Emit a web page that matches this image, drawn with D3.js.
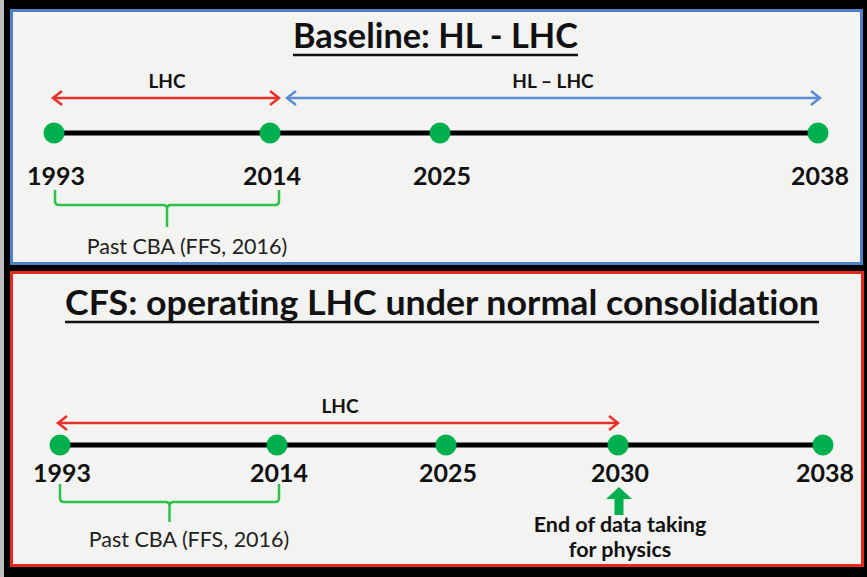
<!DOCTYPE html>
<html>
<head>
<meta charset="utf-8">
<script src="https://cdn.jsdelivr.net/npm/d3@7"></script>
<style>
  body { margin: 0; background: #000; }
  svg { display: block; }
  text { font-variant-ligatures: none; font-feature-settings: "liga" 0; }
</style>
</head>
<body>
<div id="chart"></div>
<script>
// timeline data
var titleTop = "Baseline: HL - LHC";
var titleBottom = "CFS: operating LHC under normal consolidation";
var yearsTop = [1993, 2014, 2025, 2038];
var yearsBottom = [1993, 2014, 2025, 2030, 2038];
var spanLabelsTop = ["LHC", "HL \u2013 LHC"];
var spanFromTop = [1993, 2014];
var spanToTop = [2014, 2038];
var spanLabelsBottom = ["LHC"];
var spanFromBottom = [1993];
var spanToBottom = [2030];
var braceLabel = "Past CBA (FFS, 2016)";
var braceFrom = 1993, braceTo = 2014;
var markerYear = 2030;
var markerLines = ["End of data taking", "for physics"];

function init() {
    var w = 867, h = 577;
    var green = "#00b04f", braceGreen = "#2fc24a";
    var red = "#e8302a", blue = "#5b8dd4", ink = "#111";
    var font = "Lato, 'Open Sans', sans-serif";

    var svg = d3.select("#chart").append("svg")
        .attr("width", w).attr("height", h);

    svg.append("rect").attr("width", w).attr("height", h).attr("fill", "#000");
    svg.append("rect").attr("width", 4).attr("height", h).attr("fill", "#bdbdbd");

    // panel frames
    svg.append("rect").attr("x", 11.5).attr("y", 10.5).attr("width", 850).attr("height", 253)
        .attr("fill", "#f3f3f1").attr("stroke", "#4f81c8").attr("stroke-width", 3);
    svg.append("rect").attr("x", 11.5).attr("y", 272.5).attr("width", 851).attr("height", 293)
        .attr("fill", "#f3f3f1").attr("stroke", "#e8281e").attr("stroke-width", 3);

    // uneven spacing in the original, so piecewise linear scales
    var xTop = d3.scaleLinear().domain(yearsTop).range([54, 270, 440, 818]);
    var xBot = d3.scaleLinear().domain(yearsBottom).range([60, 277, 446, 618, 823]);

    function title(text, x0, x1, y) {
        var cx = (x0 + x1) / 2;
        svg.append("text").text(text)
            .attr("x", cx).attr("y", y)
            .attr("text-anchor", "middle")
            .attr("textLength", x1 - x0).attr("lengthAdjust", "spacingAndGlyphs")
            .attr("font-family", font).attr("font-weight", "bold")
            .attr("font-size", "35px").attr("fill", ink);
        svg.append("line")
            .attr("x1", x0).attr("x2", x1)
            .attr("y1", y + 7).attr("y2", y + 7)
            .attr("stroke", ink).attr("stroke-width", 2.5);
    }

    function arrow(g, x1, x2, y, color) {
        g.append("line").attr("x1", x1).attr("x2", x2).attr("y1", y).attr("y2", y)
            .attr("stroke", color).attr("stroke-width", 2.5);
        var hw = 9, hh = 7;
        g.append("path").attr("d", "M" + (x1 + hw) + "," + (y - hh) + "L" + x1 + "," + y + "L" + (x1 + hw) + "," + (y + hh))
            .attr("fill", "none").attr("stroke", color).attr("stroke-width", 2.5);
        g.append("path").attr("d", "M" + (x2 - hw) + "," + (y - hh) + "L" + x2 + "," + y + "L" + (x2 - hw) + "," + (y + hh))
            .attr("fill", "none").attr("stroke", color).attr("stroke-width", 2.5);
    }

    function timeline(x, years, lineY, labelY) {
        svg.append("line")
            .attr("x1", x(years[0])).attr("x2", x(years[years.length - 1]))
            .attr("y1", lineY).attr("y2", lineY)
            .attr("stroke", "#000").attr("stroke-width", 5);
        svg.selectAll(null).data(years).enter().append("circle")
            .attr("cx", function(d) { return x(d); })
            .attr("cy", lineY).attr("r", 10.5).attr("fill", green);
        svg.selectAll(null).data(years).enter().append("text")
            .text(function(d) { return d; })
            .attr("x", function(d) { return x(d) + 2; })
            .attr("y", labelY)
            .attr("text-anchor", "middle")
            .attr("font-family", font).attr("font-weight", "bold")
            .attr("font-size", "25px").attr("fill", ink);
    }

    function brace(x0, x1, top, mid, bottom, labelX, labelY) {
        var xm = (x0 + x1) / 2, r = 4;
        var d = "M" + x0 + "," + top + "L" + x0 + "," + (mid - r) + "Q" + x0 + "," + mid + " " + (x0 + r) + "," + mid +
            "L" + (xm - r) + "," + mid + "Q" + xm + "," + mid + " " + xm + "," + (mid + r) + "L" + xm + "," + bottom +
            "M" + xm + "," + (mid + r) + "Q" + xm + "," + mid + " " + (xm + r) + "," + mid +
            "L" + (x1 - r) + "," + mid + "Q" + x1 + "," + mid + " " + x1 + "," + (mid - r) + "L" + x1 + "," + top;
        svg.append("path").attr("d", d).attr("fill", "none")
            .attr("stroke", braceGreen).attr("stroke-width", 2.5);
        svg.append("text").text(braceLabel)
            .attr("x", labelX).attr("y", labelY)
            .attr("text-anchor", "middle")
            .attr("font-family", font).attr("font-size", "21.5px").attr("fill", "#222");
    }

    // ---- top panel ----
    title(titleTop, 293, 578, 48);
    var gTop = svg.append("g");
    var topColors = [red, blue];
    spanLabelsTop.forEach(function(lbl, i) {
        var a = xTop(spanFromTop[i]), b = xTop(spanToTop[i]);
        if (i === 0) { a -= 1; b += 9; } else { a += 17; b += 2; }
        arrow(gTop, a, b, 98, topColors[i]);
        gTop.append("text").text(lbl)
            .attr("x", i === 0 ? 167 : 553).attr("y", 88)
            .attr("text-anchor", "middle")
            .attr("font-family", font).attr("font-weight", "bold")
            .attr("font-size", "19px").attr("fill", ink);
    });
    timeline(xTop, yearsTop, 133, 185);
    brace(xTop(braceFrom) + 1, xTop(braceTo) + 9, 190, 205, 227, 187, 254);

    // ---- bottom panel ----
    title(titleBottom, 65, 819, 315);
    var gBot = svg.append("g");
    spanLabelsBottom.forEach(function(lbl, i) {
        var a = xBot(spanFromBottom[i]) - 2, b = xBot(spanToBottom[i]);
        arrow(gBot, a, b, 423, red);
        gBot.append("text").text(lbl)
            .attr("x", 340).attr("y", 413)
            .attr("text-anchor", "middle")
            .attr("font-family", font).attr("font-weight", "bold")
            .attr("font-size", "19px").attr("fill", ink);
    });
    timeline(xBot, yearsBottom, 445, 482);
    brace(xBot(braceFrom), xBot(braceTo) + 2, 484, 502, 522, 189, 547);

    // marker arrow under 2030
    var mx = xBot(markerYear) + 1;
    var tip = 487, headB = 499, shaftB = 515, hw = 13, sw = 4.5;
    svg.append("path")
        .attr("d", "M" + mx + "," + tip + "L" + (mx + hw) + "," + headB + "L" + (mx + sw) + "," + headB +
            "L" + (mx + sw) + "," + shaftB + "L" + (mx - sw) + "," + shaftB + "L" + (mx - sw) + "," + headB +
            "L" + (mx - hw) + "," + headB + "Z")
        .attr("fill", green);
    svg.selectAll(null).data(markerLines).enter().append("text")
        .text(function(d) { return d; })
        .attr("x", mx + 1)
        .attr("y", function(d, i) { return 532 + i * 25; })
        .attr("text-anchor", "middle")
        .attr("font-family", font).attr("font-weight", "bold")
        .attr("font-size", "21.5px").attr("fill", ink);
}
window.onload = init;
</script>
</body>
</html>
